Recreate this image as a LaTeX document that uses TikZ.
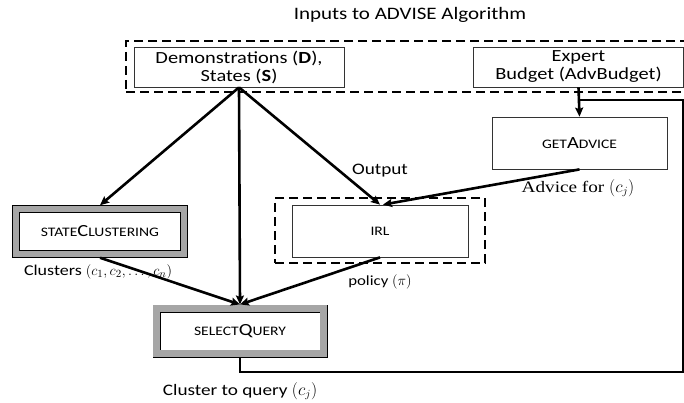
\documentclass[tikz,border=0pt]{standalone}
\usepackage{fontspec}
\setmainfont[FakeStretch=1.2]{Carlito}
\newfontfamily\advfont[FakeStretch=1.2]{Liberation Serif}
\usetikzlibrary{positioning}
\usetikzlibrary{arrows.meta}
\definecolor{bandgray}{RGB}{166,166,166}
\newcommand{\smc}[1]{{\fontsize{13}{15}\selectfont #1}}
\tikzset{
    inbox/.style = {rectangle, draw=black!80, line width=0.8pt, align=center, minimum width=210pt, minimum height=40pt, font=\fontsize{17}{18}\selectfont},
    stepbox/.style = {rectangle, draw=black!80, line width=0.8pt, align=center, minimum width=176pt, minimum height=52pt, font=\fontsize{17}{18}\selectfont},
    algbox/.style = {rectangle, draw=black, line width=0.8pt, double=bandgray, double distance=6.4pt, fill=white, outer sep=4pt, align=center, minimum width=167pt, minimum height=45pt, font=\fontsize{17}{18}\selectfont},
    dashbox/.style = {rectangle, draw=black, line width=2pt, dash pattern=on 9pt off 5pt},
    lbl/.style = {inner sep=0pt, font=\fontsize{16}{18}\selectfont},
    edgen/.style = {line width=2.6pt, black},
    edgea/.style = {line width=2.6pt, black, -{Stealth[length=9pt,width=8pt,inset=1.5pt]}}
}
\begin{document}
\begin{tikzpicture}[x=1pt, y=-1pt]
  \useasboundingbox (0,0) rectangle (684,403);
  \node[lbl, font=\fontsize{17.5}{19}\selectfont] (title) at (410,15) {Inputs to ADVISE Algorithm};
  % inputs
  \node[dashbox, minimum width=634pt, minimum height=51pt] (inframe) at (443,66.5) {};
  \node[inbox] (demo) at (239,67) {Demonstrations (\textbf{D}),\\States (\textbf{S})};
  \node[inbox] (expert) at (578.5,67) {Expert\\Budget (AdvBudget)};
  % steps
  \node[stepbox, minimum width=175pt] (getadv) at (579.5,143) {\smc{GET}A\smc{DVICE}};
  \node[dashbox, minimum width=210pt, minimum height=65pt] (irlframe) at (380,230.5) {};
  \node[stepbox] (irl) at (380,231) {\smc{IRL}};
  \node[algbox, minimum width=168pt, minimum height=44.5pt] (sc) at (100,231.5) {\smc{STATE}C\smc{LUSTERING}};
  \node[algbox] (sq) at (240,331) {\smc{SELECT}Q\smc{UERY}};
  % labels
  \node[lbl] (outlbl) at (380,171) {Output};
  \node[lbl, font=\advfont\fontsize{16}{18}\selectfont] (advlbl) at (578,188) {Advice for $(c_j)$};
  \node[lbl, font=\fontsize{15}{17}\selectfont] (clulbl) at (98,272) {Clusters $(c_1, c_2, \dots, c_n)$};
  \node[lbl, font=\fontsize{14}{16}\selectfont] (pollbl) at (380,282) {policy $(\pi)$};
  \node[lbl] (qlbl) at (240,391) {Cluster to query $(c_j)$};
  \coordinate (loopr) at (683.5,372);
  \coordinate (loopt) at (683.5,100);
  % connectors
  \draw[edgea] (demo.south) -- (sc.north);
  \draw[edgea] (demo.south) -- (sq.north);
  \draw[edgea] (demo.south) -- (irl.north);
  \draw[edgea] (getadv.south) -- ([xshift=3pt]irl.north);
  \draw[edgea] (sc.south) -- (sq.north);
  \draw[edgea] (irl.south) -- (sq.north);
  \draw[edgea] (expert.south) -- (getadv.north);
  \draw[edgen] (sq.south) |- (loopr) -- (loopt) -- (expert.south |- loopt);
\end{tikzpicture}
\end{document}
